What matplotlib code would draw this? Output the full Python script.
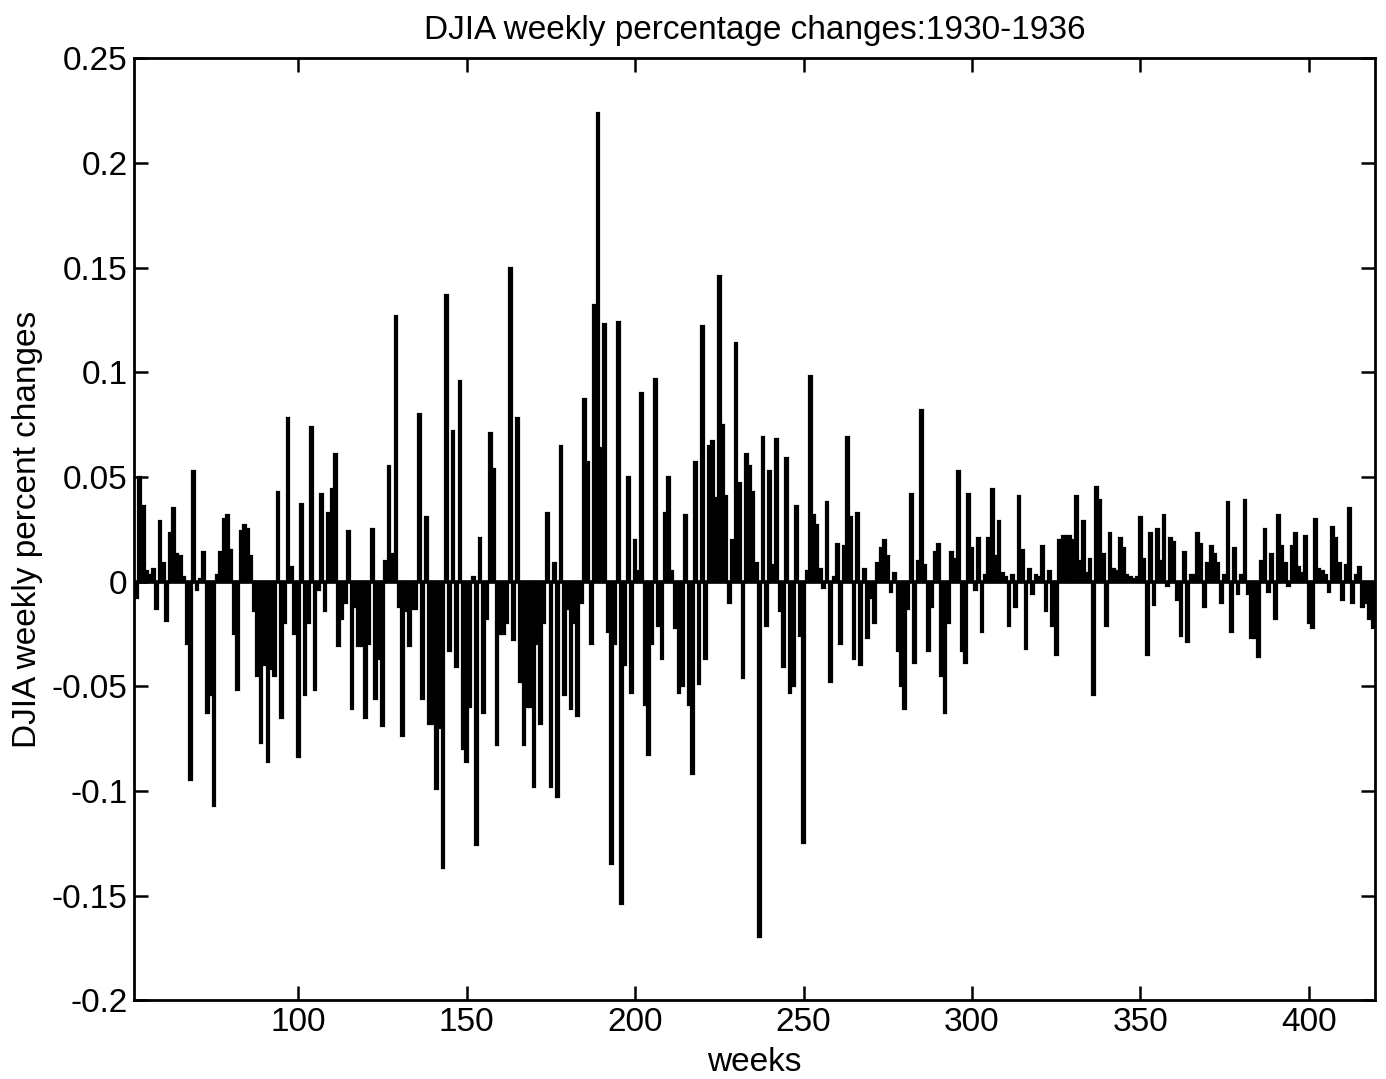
import matplotlib
matplotlib.use('Agg')
import matplotlib.pyplot as plt
import numpy as np

plt.rcParams['font.family'] = ['Liberation Sans', 'DejaVu Sans']

first_week = 52
# weekly percentage changes of the DJIA (weeks 52..419)
pct_change = [
    -0.008, 0.050, 0.036, 0.005, 0.003, 0.006, -0.013, 0.029,
    0.009, -0.019, 0.023, 0.035, 0.013, 0.012, 0.002, -0.030, -0.095, 0.053,
    -0.004, 0.001, 0.014, -0.063, -0.054, -0.107, 0.003, 0.014, 0.030, 0.032,
    0.015, -0.025, -0.052, 0.024, 0.027, 0.025, 0.012, -0.014, -0.045, -0.077,
    -0.040, -0.086, -0.042, -0.045, 0.043, -0.065, -0.020, 0.078, 0.007, -0.025,
    -0.084, 0.037, -0.054, -0.020, 0.074, -0.052, -0.004, 0.042, -0.014, 0.033,
    0.044, 0.061, -0.031, -0.018, -0.010, 0.024, -0.061, -0.012, -0.031, -0.031,
    -0.065, -0.030, 0.025, -0.056, -0.037, -0.069, 0.010, 0.055, 0.013, 0.127,
    -0.012, -0.074, -0.014, -0.031, -0.013, -0.013, 0.080, -0.056, 0.031, -0.068,
    -0.068, -0.099, -0.070, -0.137, 0.137, -0.033, 0.072, -0.041, 0.096, -0.080,
    -0.086, -0.060, 0.002, -0.126, 0.021, -0.063, -0.018, 0.071, 0.054, -0.078,
    -0.025, -0.025, -0.020, 0.150, -0.028, 0.078, -0.048, -0.078, -0.060, -0.060,
    -0.098, -0.030, -0.068, -0.020, 0.033, -0.098, 0.009, -0.103, 0.065, -0.054,
    -0.013, -0.061, -0.020, -0.064, -0.010, 0.087, 0.057, -0.030, 0.132, 0.224,
    0.064, 0.123, -0.024, -0.135, -0.030, 0.124, -0.154, -0.040, 0.050, -0.053,
    0.020, 0.005, 0.090, -0.059, -0.083, -0.030, 0.097, -0.021, -0.037, 0.033,
    0.050, 0.005, -0.022, -0.053, -0.050, 0.032, -0.059, -0.092, 0.057, -0.049,
    0.122, -0.037, 0.065, 0.067, 0.040, 0.146, 0.075, 0.041, -0.010, 0.020,
    0.114, 0.047, -0.046, 0.061, 0.055, 0.043, 0.009, -0.170, 0.069, -0.021,
    0.053, 0.008, 0.068, -0.014, -0.041, 0.059, -0.053, -0.050, 0.036, -0.026,
    -0.125, 0.005, 0.098, 0.032, 0.027, 0.006, -0.003, 0.038, -0.048, 0.002,
    0.018, -0.030, 0.017, 0.069, 0.031, -0.037, 0.033, -0.040, 0.006, -0.027,
    -0.008, -0.020, 0.009, 0.016, 0.020, 0.012, -0.005, 0.004, -0.033, -0.050,
    -0.061, -0.013, 0.042, -0.039, 0.010, 0.082, 0.008, -0.033, -0.012, 0.014,
    0.018, -0.045, -0.063, -0.020, 0.014, 0.011, 0.053, -0.033, -0.039, 0.042,
    0.016, -0.004, 0.021, -0.024, 0.003, 0.021, 0.044, 0.012, 0.029, 0.004,
    0.002, -0.021, 0.003, -0.012, 0.041, 0.015, -0.032, 0.006, -0.006, 0.003,
    0.002, 0.017, -0.014, 0.005, -0.021, -0.035, 0.020, 0.022, 0.022, 0.022,
    0.020, 0.041, 0.010, 0.029, 0.004, 0.011, -0.054, 0.045, 0.039, 0.013,
    -0.021, 0.023, 0.006, 0.005, 0.021, 0.016, 0.003, 0.002, 0.001, 0.002,
    0.031, 0.011, -0.035, 0.023, -0.011, 0.025, 0.010, 0.032, -0.002, 0.021,
    0.019, -0.009, -0.026, 0.014, -0.029, 0.003, 0.003, 0.023, 0.018, -0.012,
    0.009, 0.017, 0.013, 0.009, -0.010, 0.003, 0.038, -0.024, 0.016, -0.006,
    0.003, 0.039, -0.006, -0.027, -0.027, -0.036, 0.010, 0.025, -0.005, 0.013,
    -0.018, 0.032, 0.017, 0.009, -0.002, 0.017, 0.023, 0.007, 0.004, 0.022,
    -0.020, -0.022, 0.030, 0.006, 0.005, 0.003, -0.005, 0.026, 0.021, 0.009,
    -0.009, 0.008, 0.035, -0.010, 0.003, 0.007, -0.012, -0.010, -0.018, -0.022,
]
weeks = np.arange(first_week, first_week + len(pct_change))

xticks = [100, 150, 200, 250, 300, 350, 400]
yticks = [-0.2, -0.15, -0.1, -0.05, 0, 0.05, 0.1, 0.15, 0.2, 0.25]

fig = plt.figure(figsize=(13.86, 10.79), dpi=100)
ax = fig.add_axes([0.097, 0.073, 0.895, 0.873])

ax.bar(weeks, pct_change, width=0.8, color='black', edgecolor='black', linewidth=1.6)
ax.axhline(0, color='black', linewidth=2.6)

ax.set_xlim(51.4, 419.6)
ax.set_ylim(-0.2, 0.25)
ax.set_xticks(xticks)
ax.set_yticks(yticks)
ax.set_yticklabels([f'{v:g}' for v in yticks])
ax.tick_params(direction='in', length=10, width=1.8, labelsize=24,
               top=True, right=True, pad=5)
for s in ax.spines.values():
    s.set_linewidth(2)

ax.set_title('DJIA weekly percentage changes:1930-1936', fontsize=24, pad=14)
ax.set_xlabel('weeks', fontsize=24, labelpad=6)
ax.set_ylabel('DJIA weekly percent changes', fontsize=24, labelpad=6)

fig.savefig('out.png', dpi=100)
